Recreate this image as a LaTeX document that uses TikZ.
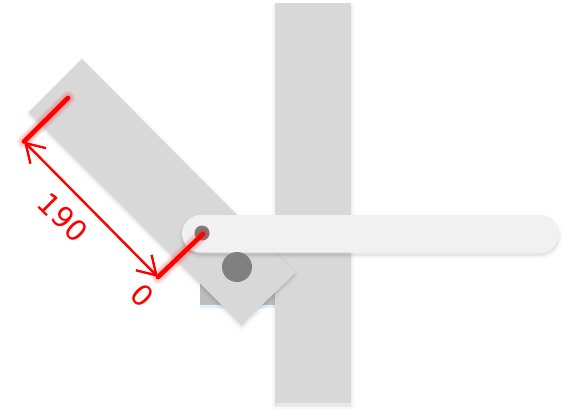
\documentclass[tikz,border=0pt]{standalone}
\usepackage{fontspec}
\setmainfont{DejaVu Sans}
\usetikzlibrary{arrows.meta}
\definecolor{barcol}{HTML}{D8D8D8}
\definecolor{slidecol}{HTML}{F1F1F1}
\definecolor{backcol}{HTML}{BEBEBE}
\definecolor{dotcol}{HTML}{808080}
\tikzset{
  x=1pt,y=-1pt,
  redthin/.style={draw=red,line width=2.4pt},
  redthick/.style={draw=red,line width=4.6pt,line cap=round},
  dim/.style={text=red,font=\fontsize{29}{29}\selectfont,rotate=-45,inner sep=0pt},
  glow/.style={draw=red,opacity=0.06,line cap=round},
  soft/.style={fill=black,opacity=0.011,draw=black,draw opacity=0.011},
  barb/.style={{Straight Barb[length=18pt,width=22pt,line width=2.4pt]}-{Straight Barb[length=18pt,width=22pt,line width=2.4pt]}},
}
\newcommand{\softshadow}[3][]{% options, offset, path
  \foreach \w in {1,2.5,4,5.5,7}{\path[soft,line width=\w pt,line join=round,shift={(0,#2)},#1] #3;}
}
\begin{document}
\begin{tikzpicture}
\useasboundingbox (0,0) rectangle (569,417);
\fill[white] (0,0) rectangle (569,417);
% named points
\coordinate (armA) at (68,98);
\coordinate (dimA) at (24,141.5);
\coordinate (dimB) at (158,277);
\coordinate (pin) at (203,234);
% back square
\foreach \w in {1,3,5}{\draw[blue!40!cyan,opacity=0.05,line width=\w pt] (200,306) -- (275,306);}
\fill[backcol] (199.5,229) rectangle (275,305);
% vertical bar
\softshadow{3}{(275,3.5) rectangle (351,403)}
\fill[barcol] (275,3.5) rectangle (351,403);
% rotated bar
\softshadow{2}{(82,59) -- (295,273) -- (241.5,325) -- (29,112) -- cycle}
\fill[barcol] (82,59) -- (295,273) -- (241.5,325) -- (29,112) -- cycle;
% slider
\softshadow[rounded corners=18.75pt]{3}{(182,215) rectangle (559,252.5)}
\fill[slidecol,rounded corners=18.75pt] (182,215) rectangle (559,252.5);
% circles
\fill[dotcol] (237,267) circle[radius=15];
\fill[dotcol] (202,233) circle[radius=7.5];
% glow
\foreach \w in {6,8,10,12,14}{
  \draw[glow,line width=\w pt] (armA) -- (dimA);
  \draw[glow,line width=\w pt] (dimB) -- (pin);
}
% red lines
\draw[redthin,barb] (dimA) -- (dimB);
\draw[redthick] (armA) -- (dimA);
\draw[redthick] (dimB) -- (pin);
\node[dim] (lenlabel) at (63,218) {190};
\node[dim] (zerolabel) at (142,296) {0};
\end{tikzpicture}
\end{document}
